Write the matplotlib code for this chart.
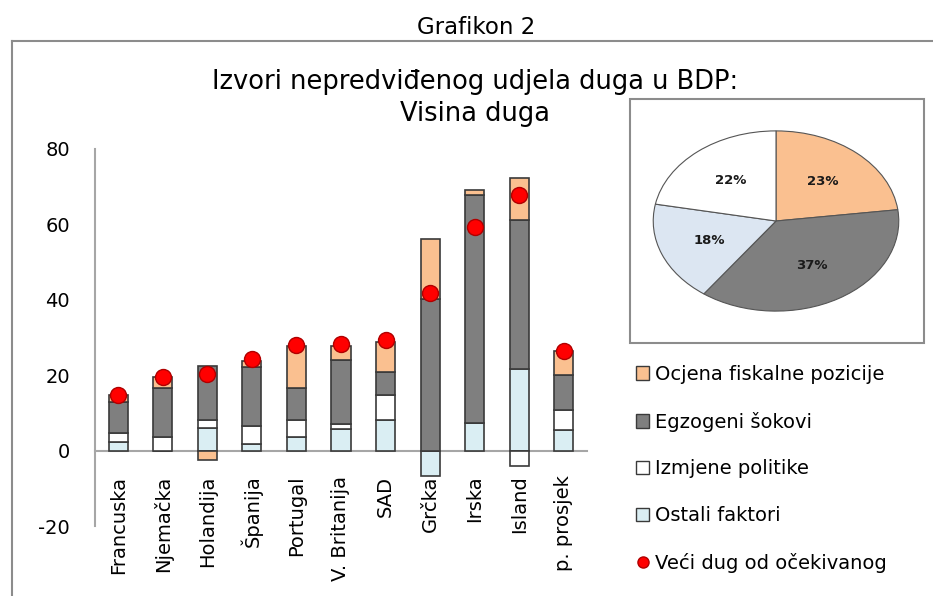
import matplotlib.pyplot as plt
import numpy as np
from matplotlib.patches import Patch, Rectangle
from matplotlib.lines import Line2D

countries = ['Francuska', 'Njemačka', 'Holandija', 'Španija', 'Portugal',
             'V. Britanija', 'SAD', 'Grčka', 'Irska', 'Island', 'p. prosjek']

# stacked components (bottom to top)
ostali = [2.4, 0.0, 6.1, 1.7, 3.7, 5.8, 8.2, -6.8, 7.3, 21.6, 5.6]
izmjene = [2.3, 3.7, 2.0, 4.9, 4.4, 1.3, 6.5, 0.0, 0.0, -4.2, 5.1]
egzogeni = [8.1, 13.0, 14.3, 15.5, 8.6, 17.0, 6.2, 40.2, 60.5, 39.6, 9.4]
ocjena = [2.0, 2.9, -2.5, 1.7, 11.1, 3.6, 8.0, 16.0, 1.3, 11.0, 6.4]
veci_dug = [14.8, 19.5, 20.3, 24.3, 28.0, 28.2, 29.3, 41.9, 59.2, 67.7, 26.5]

pie_labels = ['Ocjena fiskalne pozicije', 'Egzogeni šokovi',
              'Ostali faktori', 'Izmjene politike']
pie_shares = [23, 37, 18, 22]

c_orange = '#FAC090'
c_gray = '#7F7F7F'
c_white = '#FFFFFF'
c_blue = '#DAEEF3'
c_blue_pie = '#DCE6F2'
c_axis = '#A6A6A6'
edge = '#3A3A3A'

plt.rcParams['font.family'] = ['DejaVu Sans']
plt.rcParams['axes.unicode_minus'] = False

fig = plt.figure(figsize=(9.33, 5.96), dpi=100)
ax = fig.add_axes([0.1018, 0.1174, 0.5273, 0.6326])

x = np.arange(len(countries))
pos_bottom = np.zeros(len(countries))
neg_bottom = np.zeros(len(countries))
series = [(ostali, c_blue, 'Ostali faktori'),
          (izmjene, c_white, 'Izmjene politike'),
          (egzogeni, c_gray, 'Egzogeni šokovi'),
          (ocjena, c_orange, 'Ocjena fiskalne pozicije')]
for vals, col, lab in series:
    vals = np.array(vals)
    bottom = np.where(vals >= 0, pos_bottom, neg_bottom)
    ax.bar(x, vals, width=0.43, bottom=bottom, color=col, edgecolor=edge,
           linewidth=1.2, zorder=3)
    pos_bottom = pos_bottom + np.clip(vals, 0, None)
    neg_bottom = neg_bottom + np.clip(vals, None, 0)

ax.plot(x, veci_dug, 'o', color='#FF0000', markeredgecolor='#B00000',
        markersize=11.5, zorder=4)

ax.set_xlim(-0.52, 10.52)
ax.set_ylim(-20, 80)
ax.set_yticks(np.arange(-20, 81, 20))
ax.set_xticks(x)
ax.set_xticklabels(countries)
ax.tick_params(axis='both', length=0, labelsize=14)
ax.tick_params(axis='y', pad=18)
ax.tick_params(axis='x', pad=18, labelrotation=90)
ax.spines['top'].set_visible(False)
ax.spines['right'].set_visible(False)
ax.spines['bottom'].set_position(('data', 0))
for s in ['left', 'bottom']:
    ax.spines[s].set_color(c_axis)
    ax.spines[s].set_linewidth(1.5)

# titles
fig.text(0.510, 0.954, 'Grafikon 2', ha='center', va='center', fontsize=16.5)
fig.text(0.509, 0.836, 'Izvori nepredviđenog udjela duga u BDP:\nVisina duga',
         ha='center', va='center', fontsize=18.5, linespacing=1.3)

# outer frame
fig.add_artist(Line2D([0.0129, 1.0], [0.9312, 0.9312], color='#8C8C8C', lw=1.5))
fig.add_artist(Line2D([0.0129, 0.0129], [0.0, 0.9312], color='#8C8C8C', lw=1.5))

# pie inset
fig.add_artist(Rectangle((0.6752, 0.4245), 0.3151, 0.4094, fill=False,
                         edgecolor='#8C8C8C', lw=1.5,
                         transform=fig.transFigure))
pax = fig.add_axes([652 / 933, (596 - 312) / 596, 248 / 933, 182 / 596])
wedges, texts, autotexts = pax.pie(
    pie_shares, colors=[c_orange, c_gray, c_blue_pie, c_white],
    startangle=90, counterclock=False, autopct='%d%%', pctdistance=0.58,
    wedgeprops=dict(edgecolor='#555555', linewidth=0.8),
    textprops=dict(fontsize=9.5, fontweight='bold', color='#1A1A1A'))
pax.set_aspect('auto')
pax.set_xlim(-1.01, 1.01)
pax.set_ylim(-1.01, 1.01)

# legend
handles = [Patch(facecolor=c_orange, edgecolor=edge, lw=1),
           Patch(facecolor=c_gray, edgecolor=edge, lw=1),
           Patch(facecolor=c_white, edgecolor=edge, lw=1),
           Patch(facecolor=c_blue, edgecolor=edge, lw=1),
           Line2D([], [], marker='o', ls='', color='#FF0000',
                  markeredgecolor='#B00000', markersize=8)]
labels = ['Ocjena fiskalne pozicije', 'Egzogeni šokovi', 'Izmjene politike',
          'Ostali faktori', 'Veći dug od očekivanog']
fig.legend(handles, labels, loc='upper left',
           bbox_to_anchor=(626 / 933, (596 - 355) / 596), frameon=False,
           fontsize=14, handlelength=0.7, handleheight=0.7,
           handletextpad=0.3, labelspacing=1.43, borderpad=0)

plt.savefig('out.png', dpi=100)
